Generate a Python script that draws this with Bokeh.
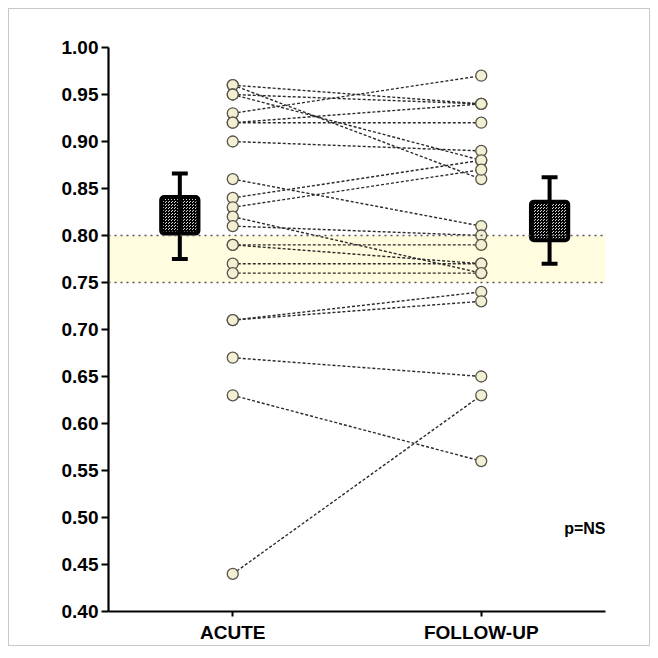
from bokeh.plotting import figure
from bokeh.models import FixedTicker, NumeralTickFormatter, BoxAnnotation, Span, Range1d
from bokeh.core.properties import value
from bokeh.embed import file_html
from bokeh.resources import INLINE

# ---- data ----
categories = ["ACUTE", "FOLLOW-UP"]
cat_pos = [1, 2]
acute = [0.96, 0.96, 0.95, 0.95, 0.93, 0.92, 0.92, 0.90, 0.86, 0.84, 0.83,
         0.82, 0.81, 0.79, 0.79, 0.77, 0.76, 0.71, 0.71, 0.67, 0.63, 0.44]
follow_up = [0.94, 0.86, 0.94, 0.88, 0.97, 0.94, 0.92, 0.89, 0.81, 0.88, 0.87,
             0.76, 0.80, 0.79, 0.77, 0.77, 0.76, 0.74, 0.73, 0.65, 0.56, 0.63]
# summary boxes: [acute, follow-up]
box_pos = [0.787, 2.275]
box_low = [0.802, 0.795]
box_high = [0.841, 0.836]
whisk_low = [0.775, 0.770]
whisk_high = [0.866, 0.862]
normal_range = [0.75, 0.80]
y_ticks = [0.40, 0.45, 0.50, 0.55, 0.60, 0.65, 0.70, 0.75, 0.80, 0.85, 0.90, 0.95, 1.00]
annotation = "p=NS"

FONT = "Liberation Sans"

p = figure(frame_width=497, frame_height=564, min_border_left=99, min_border_top=38,
           min_border_right=44, min_border_bottom=30,
           x_range=Range1d(0.5, 2.5), y_range=Range1d(0.40, 1.00),
           output_backend="svg", toolbar_location=None)
p.styles = {"margin": "8px", "border": "1px solid #c8c8c8"}
p.outline_line_color = None
p.xgrid.grid_line_color = None
p.ygrid.grid_line_color = None
p.background_fill_color = "white"

# normal band
p.add_layout(BoxAnnotation(bottom=normal_range[0], top=normal_range[1],
                           fill_color="#FFFCE0", fill_alpha=1.0, line_color=None, level="underlay"))
for v in normal_range:
    p.add_layout(Span(location=v, dimension="width", line_color="#555555",
                      line_dash="2 4", line_width=1.5))

# paired lines
x0 = [cat_pos[0]] * len(acute)
x1 = [cat_pos[1]] * len(follow_up)
p.segment(x0=x0, y0=acute, x1=x1, y1=follow_up, line_color="#2a2a2a",
          line_dash="3 2", line_width=1.4)

# points
p.scatter(x0, acute, size=11, fill_color="#F2EFD3", line_color="#55554a", line_width=1.3)
p.scatter(x1, follow_up, size=11, fill_color="#F2EFD3", line_color="#55554a", line_width=1.3)

# summary boxes
bw = 0.15
cap = 0.064
p.segment(x0=box_pos, y0=whisk_low, x1=box_pos, y1=whisk_high, line_color="black", line_width=4)
p.segment(x0=[b - cap / 2 for b in box_pos], y0=whisk_low,
          x1=[b + cap / 2 for b in box_pos], y1=whisk_low, line_color="black", line_width=4)
p.segment(x0=[b - cap / 2 for b in box_pos], y0=whisk_high,
          x1=[b + cap / 2 for b in box_pos], y1=whisk_high, line_color="black", line_width=4)
p.quad(left=[b - bw / 2 for b in box_pos], right=[b + bw / 2 for b in box_pos],
       bottom=box_low, top=box_high, fill_color="#d4d4d4", line_color="black", line_width=4,
       hatch_pattern="criss_cross", hatch_color="black", hatch_scale=3, hatch_weight=1,
       border_radius=3)
p.segment(x0=box_pos, y0=box_low, x1=box_pos, y1=box_high, line_color="black", line_width=4)

# annotation
p.text(x=[2.5], y=[0.488], text=[annotation], text_align="right", text_baseline="middle",
       text_font=value(FONT), text_font_style="bold", text_font_size="16px", text_color="black")

# axes
p.xaxis.ticker = FixedTicker(ticks=cat_pos)
p.xaxis.major_label_overrides = {c: t for c, t in zip(cat_pos, categories)}
p.yaxis.ticker = FixedTicker(ticks=y_ticks)
p.yaxis.formatter = NumeralTickFormatter(format="0.00")
for ax in (p.xaxis, p.yaxis):
    ax.axis_line_width = 2.2
    ax.axis_line_color = "black"
    ax.major_tick_line_width = 2
    ax.major_tick_line_color = "black"
    ax.minor_tick_line_color = None
    ax.major_label_text_font = FONT
    ax.major_label_text_font_style = "bold"
    ax.major_label_text_font_size = "19px"
    ax.major_label_text_color = "black"
p.yaxis.major_tick_out = 7
p.yaxis.major_tick_in = 0
p.yaxis.major_label_standoff = 3
p.xaxis.major_tick_out = 5
p.xaxis.major_tick_in = 0
p.xaxis.major_label_standoff = 5

open("out.html", "w").write(file_html(p, INLINE))
